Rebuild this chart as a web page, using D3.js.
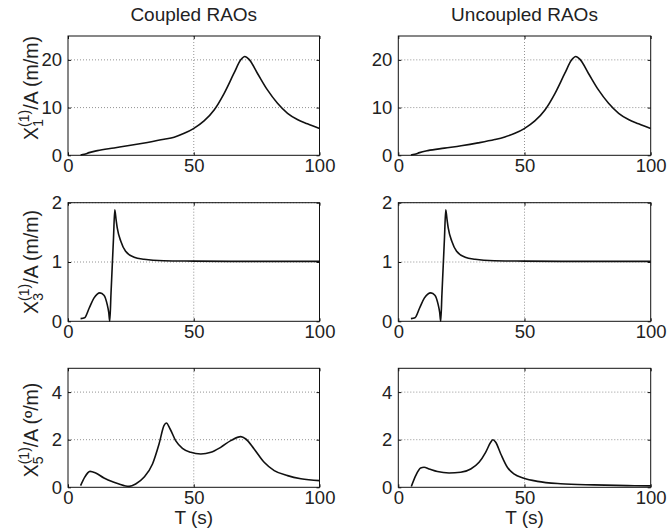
<!DOCTYPE html>
<html>
<head>
<meta charset="utf-8">
<script src="https://cdn.jsdelivr.net/npm/d3@7"></script>
<style>
  html, body { margin: 0; padding: 0; background: #fff; }
  svg { display: block; }
  text { font-family: "Liberation Sans", Arial, Helvetica, sans-serif; fill: #222; }
</style>
</head>
<body>
<svg id="chart" width="667" height="532"></svg>
<script>
// ---------------- data ----------------
const columnTitles = ["Coupled RAOs", "Uncoupled RAOs"];
const xTicks = [0, 50, 100];
const yTicksX1 = [0, 10, 20];
const yTicksX3 = [0, 1, 2];
const yTicksX5 = [0, 2, 4];
const yMaxX1 = 25, yMaxX3 = 2, yMaxX5 = 5;

// Surge X1 (m/m)
const tX1Coupled = [5, 6.5, 8.4, 11.7, 18.3, 24.9, 31.6, 38.2, 42.2, 46.2, 49.9, 54.1, 58.1, 62.1, 66, 68.7, 70.3, 72, 75.3, 79.3, 83.3, 87.3, 91.2, 95.2, 100];
const yX1Coupled = [0.05, 0.2, 0.56, 0.98, 1.54, 2.1, 2.7, 3.35, 3.8, 4.6, 5.6, 7.2, 9.5, 13, 17.2, 20, 20.7, 20.1, 17.2, 13.7, 10.9, 8.8, 7.5, 6.6, 5.6];
const tX1Uncoupled = [5, 6.5, 8.4, 11.7, 18.3, 24.9, 31.6, 38.2, 42.2, 46.2, 49.9, 54.1, 58.1, 62.1, 66, 68.7, 70.3, 72, 75.3, 79.3, 83.3, 87.3, 91.2, 95.2, 100];
const yX1Uncoupled = [0.05, 0.2, 0.56, 0.98, 1.5, 2.0, 2.6, 3.3, 3.85, 4.6, 5.6, 7.2, 9.5, 13, 17.2, 20, 20.7, 20.1, 17.2, 13.7, 10.9, 8.8, 7.5, 6.6, 5.6];

// Heave X3 (m/m)
const tX3Coupled = [5, 6.6, 8.4, 10.3, 12.7, 14.3, 15.6, 16.2, 16.6, 17.1, 17.6, 18.1, 18.6, 19.1, 19.6, 21, 22.9, 26.3, 30.2, 38, 50, 70, 100];
const yX3Coupled = [0.045, 0.06, 0.22, 0.39, 0.48, 0.44, 0.28, 0.15, 0.0, 0.47, 0.94, 1.41, 1.88, 1.72, 1.57, 1.35, 1.18, 1.08, 1.045, 1.02, 1.015, 1.01, 1.01];
const tX3Uncoupled = [5, 6.6, 8.4, 10.3, 12.9, 14.5, 15.8, 16.4, 16.8, 17.3, 17.8, 18.3, 18.8, 19.3, 19.8, 21.2, 23.1, 26.5, 30.4, 38, 50, 70, 100];
const yX3Uncoupled = [0.045, 0.06, 0.22, 0.39, 0.48, 0.44, 0.28, 0.15, 0.0, 0.47, 0.94, 1.41, 1.88, 1.72, 1.57, 1.35, 1.18, 1.08, 1.045, 1.02, 1.015, 1.01, 1.01];

// Pitch X5 (deg/m)
const tX5Coupled = [5, 6.6, 8.75, 11, 14.3, 18.3, 22.3, 24.3, 26.9, 30.2, 33.6, 36.2, 38.2, 39.1, 40.6, 42.8, 45.5, 48.8, 52.8, 56.8, 60.7, 64.7, 68.7, 70.7, 74, 78, 82, 87.3, 92.6, 100];
const yX5Coupled = [0.07, 0.42, 0.67, 0.6, 0.39, 0.21, 0.07, 0.04, 0.14, 0.42, 0.98, 1.82, 2.6, 2.7, 2.45, 1.96, 1.64, 1.47, 1.4, 1.47, 1.68, 1.96, 2.13, 2.03, 1.61, 1.05, 0.7, 0.49, 0.36, 0.28];
const tX5Uncoupled = [5.15, 6.9, 8.85, 10.2, 12.2, 15.5, 20.1, 24.7, 28.7, 32, 34.6, 36.6, 37.5, 38.6, 40.6, 43.2, 45.8, 49.8, 55.1, 64.3, 77.5, 90.8, 100];
const yX5Uncoupled = [0.03, 0.49, 0.81, 0.84, 0.77, 0.66, 0.6, 0.63, 0.77, 1.05, 1.47, 1.89, 2.0, 1.89, 1.4, 0.84, 0.56, 0.38, 0.25, 0.15, 0.1, 0.07, 0.06];

// ---------------- layout ----------------
const cols = [{x0: 68, x1: 319.5}, {x0: 398.3, x1: 650.7}];
const rows = [
  {y0: 36, y1: 155.3, yMax: yMaxX1, ticks: yTicksX1, sub: "1", unit: " (m/m)", labelY: 88},
  {y0: 202.7, y1: 321.3, yMax: yMaxX3, ticks: yTicksX3, sub: "3", unit: " (m/m)", labelY: 262},
  {y0: 368.3, y1: 487.3, yMax: yMaxX5, ticks: yTicksX5, sub: "5", unit: " (\u00BA/m)", labelY: 430}
];
const series = [
  [[tX1Coupled, yX1Coupled], [tX1Uncoupled, yX1Uncoupled]],
  [[tX3Coupled, yX3Coupled], [tX3Uncoupled, yX3Uncoupled]],
  [[tX5Coupled, yX5Coupled], [tX5Uncoupled, yX5Uncoupled]]
];

const svg = d3.select("#chart");
const FS = 18.5;
const fmt = d => String(d);

rows.forEach((row, ri) => {
  cols.forEach((col, ci) => {
    const x = d3.scaleLinear().domain([0, 100]).range([col.x0, col.x1]);
    const y = d3.scaleLinear().domain([0, row.yMax]).range([row.y1, row.y0]);
    const g = svg.append("g");

    // grid
    g.selectAll("line.gx").data(xTicks.filter(v => v > 0 && v < 100)).join("line")
      .attr("x1", d => x(d)).attr("x2", d => x(d)).attr("y1", row.y0).attr("y2", row.y1)
      .attr("stroke", "#777").attr("stroke-width", 0.8).attr("stroke-dasharray", "1,2");
    g.selectAll("line.gy").data(row.ticks.filter(v => v > 0)).join("line")
      .attr("x1", col.x0).attr("x2", col.x1).attr("y1", d => y(d)).attr("y2", d => y(d))
      .attr("stroke", "#777").attr("stroke-width", 0.8).attr("stroke-dasharray", "1,2");

    // curve
    const [ts, ys] = series[ri][ci];
    const pts = ts.map((t, i) => [t, ys[i]]);
    g.append("path").datum(pts)
      .attr("fill", "none").attr("stroke", "#111").attr("stroke-width", 1.6)
      .attr("stroke-linejoin", "round")
      .attr("d", d3.line().x(d => x(d[0])).y(d => y(d[1])).curve(d3.curveMonotoneX));

    // axes
    const ax = g.append("g").attr("transform", `translate(0,${row.y1})`)
      .call(d3.axisBottom(x).tickValues(xTicks).tickFormat(fmt).tickSize(-3).tickPadding(4));
    const axTop = g.append("g").attr("transform", `translate(0,${row.y0})`)
      .call(d3.axisTop(x).tickValues(xTicks).tickSize(-3).tickFormat(""));
    const ay = g.append("g").attr("transform", `translate(${col.x0},0)`)
      .call(d3.axisLeft(y).tickValues(row.ticks).tickFormat(fmt).tickSize(-3).tickPadding(6));
    const ayR = g.append("g").attr("transform", `translate(${col.x1},0)`)
      .call(d3.axisRight(y).tickValues(row.ticks).tickSize(-3).tickFormat(""));
    [ax, axTop, ay, ayR].forEach(a => {
      a.select(".domain").remove();
      a.selectAll(".tick line").attr("stroke", "#111");
      a.selectAll(".tick text").attr("font-size", FS).attr("fill", "#222")
        .attr("font-family", '"Liberation Sans", Arial, sans-serif');
    });

    // box
    g.append("rect").attr("x", col.x0).attr("y", row.y0)
      .attr("width", col.x1 - col.x0).attr("height", row.y1 - row.y0)
      .attr("fill", "none").attr("stroke", "#111").attr("stroke-width", 1);

    // column titles
    if (ri === 0) {
      svg.append("text").attr("x", (col.x0 + col.x1) / 2).attr("y", 21)
        .attr("text-anchor", "middle").attr("font-size", 19).text(columnTitles[ci]);
    }
    // x label
    if (ri === 2) {
      svg.append("text").attr("x", (col.x0 + col.x1) / 2).attr("y", 524)
        .attr("text-anchor", "middle").attr("font-size", 19).text("T (s)");
    }
    // y label
    if (ci === 0) {
      const t = svg.append("text")
        .attr("transform", `translate(38,${row.labelY}) rotate(-90)`)
        .attr("text-anchor", "middle").attr("font-size", 19.5);
      t.append("tspan").text("X");
      t.append("tspan").attr("font-size", 14).attr("dy", -9).text("(1)");
      t.append("tspan").attr("font-size", 14).attr("dx", -17.1).attr("dy", 14).text(row.sub);
      t.append("tspan").attr("dx", 9.3).attr("dy", -5).text("/A" + row.unit);
    }
  });
});
</script>
</body>
</html>
